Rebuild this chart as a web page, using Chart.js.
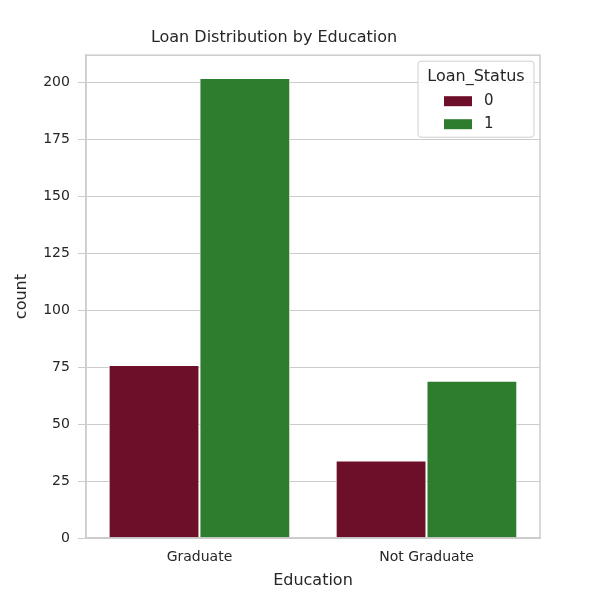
<!DOCTYPE html>
<html><head><script src="https://cdn.jsdelivr.net/npm/chart.js"></script>
<style>body{margin:0;background:#fff}#w{width:600px;height:600px}</style></head>
<body><div id="w"><canvas id="c"></canvas></div>
<script>
const categories = ["Graduate", "Not Graduate"];
const series0 = [76, 34];
const series1 = [202, 69];
const seriesNames = ["0", "1"];
const colors = ["#6d0f28", "#2e7d2e"];
const yTicks = [0,25,50,75,100,125,150,175,200];
const F = "'DejaVu Sans', sans-serif";

const legendPlugin = {
  id: 'inLegend',
  afterDraw(chart) {
    const ctx = chart.ctx, a = chart.chartArea;
    const x = a.right - 122, y = a.top + 6, w = 116, h = 76;
    ctx.save();
    ctx.fillStyle = 'rgba(255,255,255,0.85)';
    ctx.strokeStyle = '#d0d0d0'; ctx.lineWidth = 1;
    ctx.beginPath(); ctx.roundRect(x, y, w, h, 3); ctx.fill(); ctx.stroke();
    ctx.fillStyle = '#262626'; ctx.font = '16px ' + F; ctx.textAlign = 'center'; ctx.textBaseline = 'middle';
    ctx.fillText('Loan_Status', x + w/2, y + 16);
    ctx.font = '15px ' + F; ctx.textAlign = 'left';
    seriesNames.forEach((n, i) => {
      const yy = y + 40 + i * 23;
      ctx.fillStyle = colors[i]; ctx.fillRect(x + 26, yy - 5, 28, 10);
      ctx.fillStyle = '#262626'; ctx.fillText(n, x + 66, yy);
    });
    ctx.restore();
  }
};

new Chart(document.getElementById('c'), {
  type: 'bar',
  data: { labels: categories, datasets: [
    { label: seriesNames[0], data: series0, backgroundColor: colors[0], borderColor: '#fff', borderWidth: 1 },
    { label: seriesNames[1], data: series1, backgroundColor: colors[1], borderColor: '#fff', borderWidth: 1 }
  ]},
  options: {
    animation: false, responsive: true, maintainAspectRatio: false,
    layout: { padding: { top: 20, right: 60, left: 8, bottom: 8 } },
    datasets: { bar: { categoryPercentage: 0.8, barPercentage: 1 } },
    plugins: {
      legend: { display: false }, tooltip: { enabled: false },
      title: { display: true, text: 'Loan Distribution by Education', color: '#262626', font: { family: F, size: 16, weight: 'normal' }, padding: { top: 8, bottom: 8 } }
    },
    scales: {
      x: { grid: { display: false }, border: { color: '#cccccc', width: 1.5 },
        ticks: { color: '#262626', font: { family: F, size: 14 } },
        title: { display: true, text: 'Education', color: '#262626', font: { family: F, size: 16 }, padding: 2 } },
      y: { min: 0, max: 212, afterBuildTicks: s => { s.ticks = yTicks.map(v => ({ value: v })); },
        grid: { color: '#cccccc' }, border: { color: '#cccccc', width: 1.5 },
        ticks: { color: '#262626', font: { family: F, size: 14 }, padding: 8 },
        title: { display: true, text: 'count', color: '#262626', font: { family: F, size: 16 } } }
    }
  },
  plugins: [legendPlugin, { id: 'frame', afterDraw(c) { const a = c.chartArea, x = c.ctx; x.save(); x.strokeStyle = '#cccccc'; x.lineWidth = 1.5; x.strokeRect(a.left, a.top, a.right - a.left, a.bottom - a.top); x.restore(); } }]
});
</script></body></html>
